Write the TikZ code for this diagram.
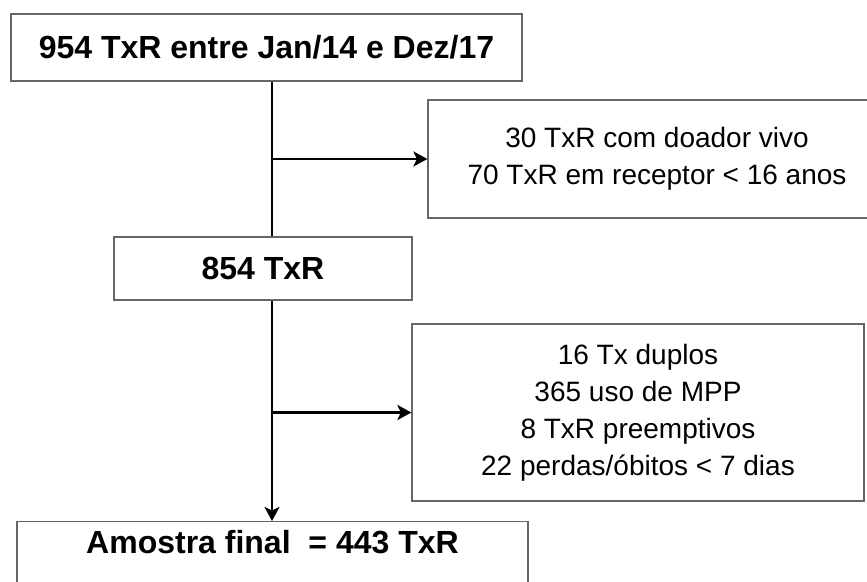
\documentclass[tikz,border=0pt]{standalone}
\usepackage{fontspec}
\setmainfont{Liberation Sans}
\usepackage{tikz}
\usetikzlibrary{arrows.meta, calc}

\tikzset{
  stagebox/.style={draw=black!60, line width=1.2pt, inner sep=0pt, align=center,
    font=\fontsize{32}{38}\selectfont\bfseries},
  exclbox/.style={draw=black!60, line width=1.2pt, inner sep=0pt, align=center,
    font=\fontsize{28}{37}\selectfont},
  flow/.style={line width=2.6pt},
  tip/.style={-{Stealth[length=14pt, width=15pt, inset=3.5pt]}}
}

\begin{document}
\begin{tikzpicture}[x=1pt, y=-1pt]
\useasboundingbox (0,0) rectangle (867,581);
\clip (0,0) rectangle (867,581);
\begin{scope}
\node[stagebox, minimum width=511pt, minimum height=67pt] (total) at (266.5,47.5) {954 TxR entre Jan/14 e Dez/17};
\node[exclbox, minimum width=458pt, minimum height=118pt] (excl1) at (657,159) {30 TxR com doador vivo\\70 TxR em receptor < 16 anos};
\node[stagebox, minimum width=298pt, minimum height=63pt] (after1) at (263,268.5) {854 TxR};
\node[exclbox, minimum width=452pt, minimum height=177pt] (excl2) at (638,412.5) {16 Tx duplos\\365 uso de MPP\\8 TxR preemptivos\\22 perdas/óbitos < 7 dias};
\node[stagebox, minimum width=511pt, anchor=north, inner ysep=9pt, text height=23pt, text depth=70pt] (final) at (272.5,521) {Amostra final\ \ = 443 TxR};
\coordinate (spine) at (272,0);

\draw[flow](total.south -| spine)to(after1.north -| spine);
\draw[flow, tip](spine |- excl1.west)to(excl1.west);
\draw[flow, tip](after1.south -| spine)to(final.north -| spine);
\draw[flow, tip](spine |- excl2.west)to(excl2.west);
\end{scope}
\end{tikzpicture}
\end{document}
